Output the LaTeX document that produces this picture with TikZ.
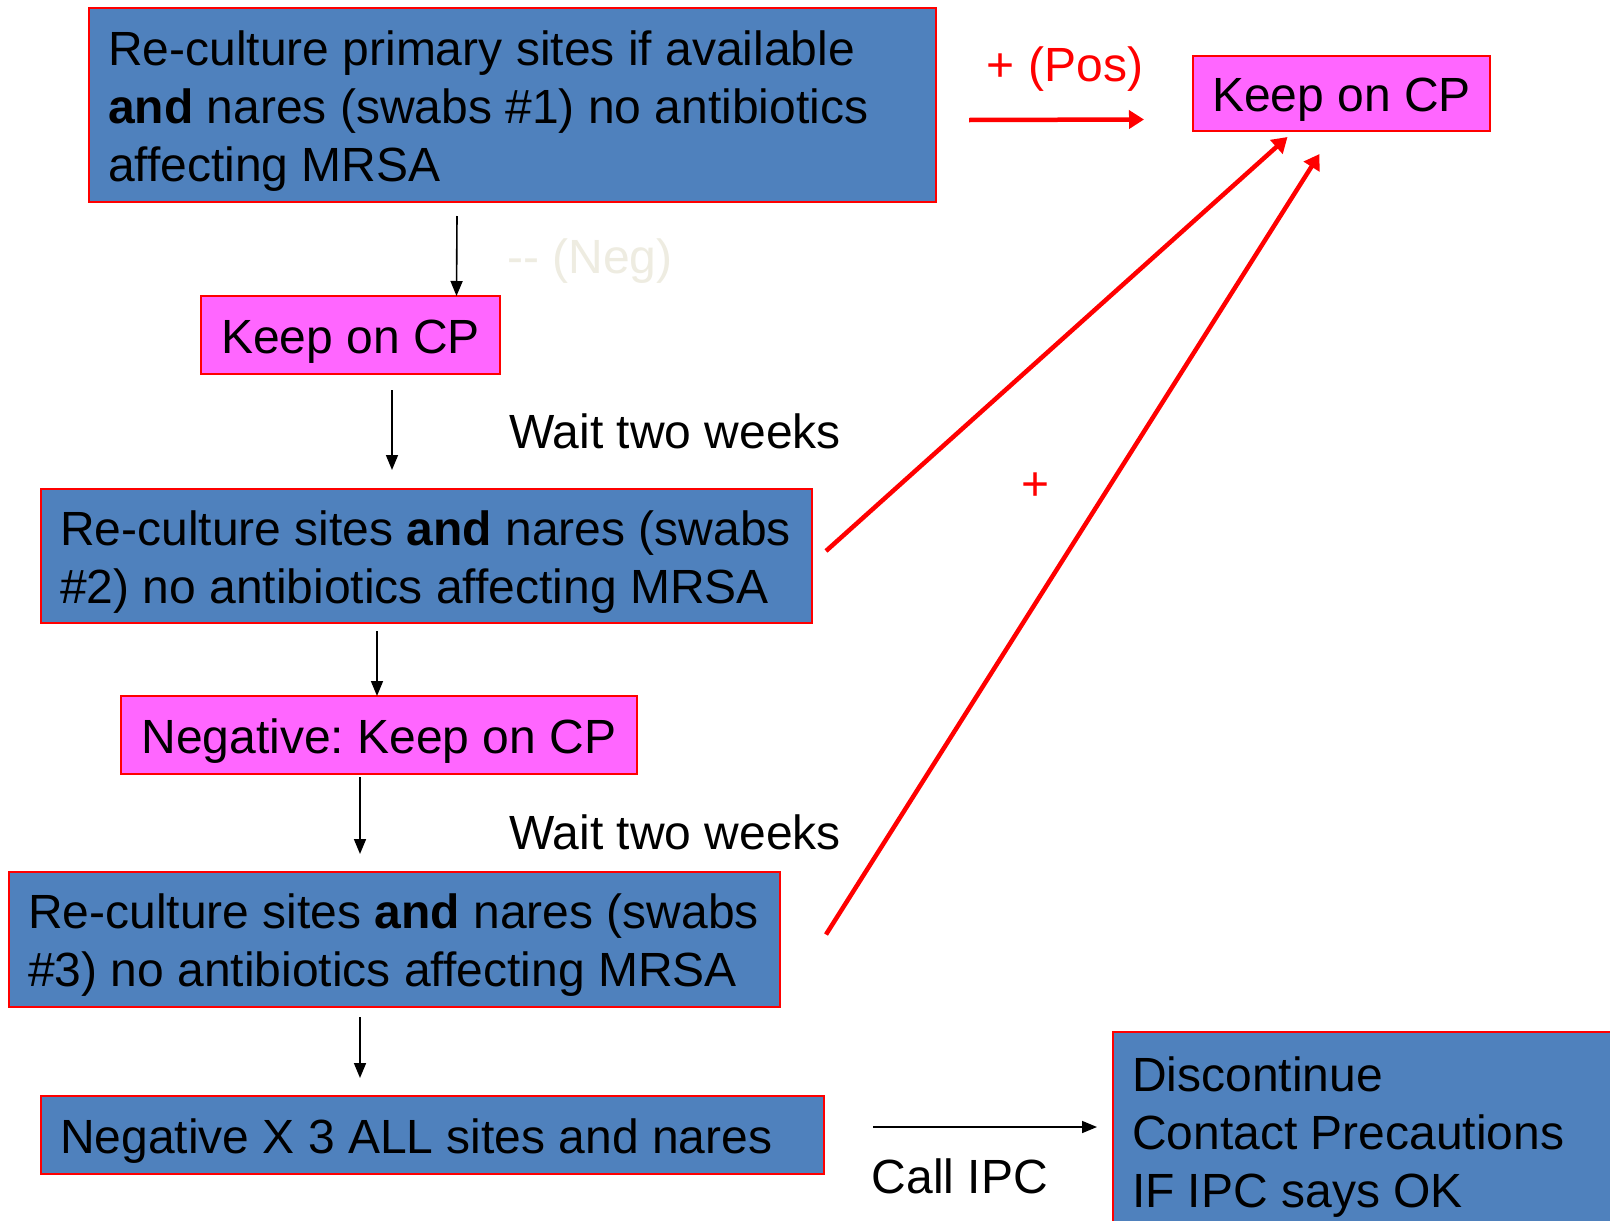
\documentclass[tikz,border=0pt]{standalone}
\usepackage{fontspec}
\setmainfont{Liberation Sans}
\usetikzlibrary{arrows.meta}
\definecolor{mrblue}{HTML}{4F81BD}
\definecolor{mrpink}{HTML}{FF66FF}
\definecolor{mrred}{HTML}{FF0000}
\definecolor{mrneg}{HTML}{EEECE1}
\newcommand{\boxstrut}{\rule{0pt}{46pt}}
\frenchspacing
\tikzset{
  culture/.style={rectangle,anchor=north west,draw=mrred,fill=mrblue,line width=2pt,inner xsep=19pt,inner ysep=0pt,outer sep=0pt,align=flush left,text=black,execute at begin node=\boxstrut},
  keep/.style={rectangle,anchor=north west,draw=mrred,fill=mrpink,line width=2pt,inner sep=0pt,outer sep=0pt,text=black,execute at begin node=\boxstrut},
  flow/.style={-{Triangle[length=15pt,width=12pt]},draw=black,line width=1.6pt},
  posflow/.style={-{Triangle[length=15pt,width=18pt]},draw=mrred,line width=4.5pt},
  note/.style={text=black},
  bigtext/.style={font=\fontsize{48}{58}\selectfont},
}

\begin{document}
\begin{tikzpicture}[x=1pt,y=-1pt,bigtext]
  \useasboundingbox[fill=white] (0,0) rectangle (1610,1221);

  \node[culture,minimum width=847pt,minimum height=194pt,text width=809pt] (cult1) at (89,8) {Re-culture primary sites if available\\\textbf{and} nares (swabs \#1) no antibiotics\\affecting MRSA};
  \node[keep,minimum width=297pt,minimum height=75pt] (keepa) at (1193,56) {Keep on CP};
  \node[keep,minimum width=299pt,minimum height=78pt] (keepb) at (201,296) {Keep on CP};
  \node[culture,minimum width=771pt,minimum height=134pt,text width=733pt] (cult2) at (41,489) {Re-culture sites \textbf{and} nares (swabs\\\#2) no antibiotics affecting MRSA};
  \node[keep,minimum width=516pt,minimum height=78pt] (negk) at (121,696) {Negative: Keep on CP};
  \node[culture,minimum width=771pt,minimum height=135pt,text width=733pt] (cult3) at (9,872) {Re-culture sites \textbf{and} nares (swabs\\\#3) no antibiotics affecting MRSA};
  \node[culture,minimum width=783pt,minimum height=78pt,text width=745pt] (negall) at (41,1096) {Negative X 3 ALL sites and nares};
  \node[culture,minimum width=510pt,minimum height=198pt,text width=472pt] (disc) at (1113,1032) {Discontinue\\Contact Precautions\\IF IPC says OK};

  \node[text=mrred] (pos) at (1065,69) {+ (Pos)};
  \node[text=mrneg] (neg) at (590,261) {-{}- (Neg)};
  \node[note] (waita) at (675,431) {Wait two weeks};
  \node[note] (waitb) at (675,832) {Wait two weeks};
  \node[text=mrred] (plus) at (1036,487) {+};
  \node[note] (call) at (960,1176) {Call IPC};

  \draw[posflow] ([xshift=33pt,yshift=-15pt]cult1.east) -- ([xshift=-49pt,yshift=-26pt]keepa.west);
  \draw[posflow] ([xshift=14pt,yshift=5pt]cult2.east) -- ([xshift=-54pt,yshift=-6pt]keepa.south);
  \draw[posflow] ([xshift=46pt,yshift=5pt]cult3.east) -- ([xshift=-22pt,yshift=-23pt]keepa.south);

  \draw[flow] ([xshift=-55.5pt,yshift=-14pt]cult1.south) -- ([xshift=106pt]keepb.north);
  \draw[flow] ([xshift=41.5pt,yshift=-16pt]keepb.south) -- ([xshift=-34.5pt,yshift=19pt]cult2.north);
  \draw[flow] ([xshift=-49.5pt,yshift=-8pt]cult2.south) -- ([xshift=-2pt]negk.north);
  \draw[flow] ([xshift=-19pt,yshift=-3pt]negk.south) -- ([xshift=-34.5pt,yshift=18pt]cult3.north);
  \draw[flow] ([xshift=-34.5pt,yshift=-10pt]cult3.south) -- ([xshift=-72.5pt,yshift=18pt]negall.north);
  \draw[flow] ([xshift=49pt,yshift=8pt]negall.east) -- ([xshift=-16pt,yshift=4pt]disc.west);
\end{tikzpicture}
\end{document}
